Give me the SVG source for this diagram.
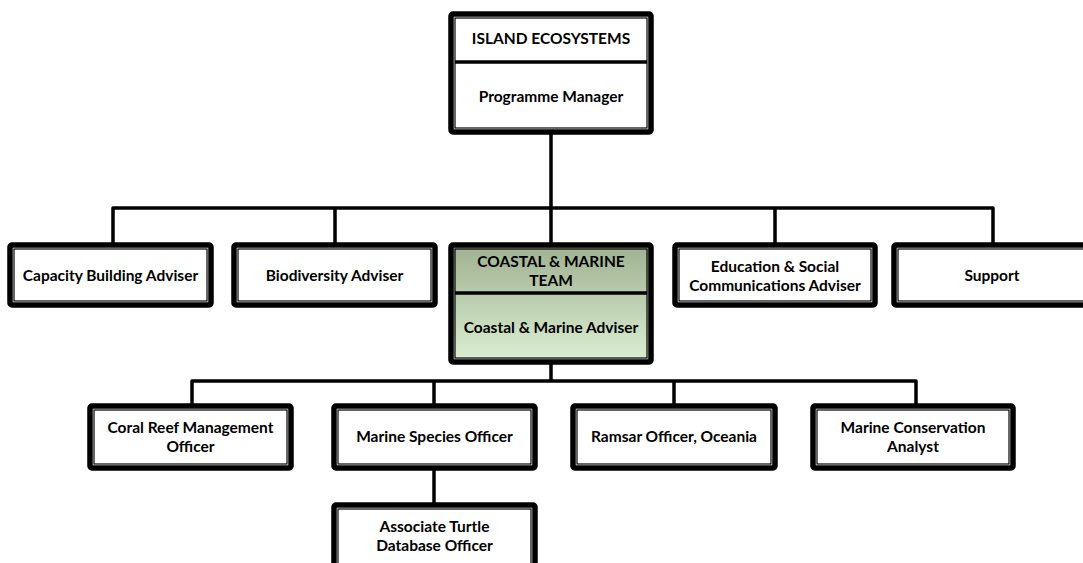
<svg xmlns="http://www.w3.org/2000/svg" width="1083" height="563" viewBox="0 0 1083 563">
<defs>
<linearGradient id="g" x1="0" y1="0" x2="0" y2="1">
<stop offset="0" stop-color="#9fb190"/>
<stop offset="1" stop-color="#dcefd2"/>
</linearGradient>
</defs>
<style>
.o{fill:#fff;stroke:#000;stroke-width:5.5}
.i{fill:none;stroke:#000;stroke-width:1.2}
.d{stroke:#000;stroke-width:3.5}
.c{fill:none;stroke:#000;stroke-width:3.5;stroke-linejoin:round}
text{font-family:Lato,"Liberation Sans",sans-serif;font-weight:bold;font-size:15.5px;fill:#000;text-anchor:middle}
</style>
<g id="connectors">
<path class="c" d="M551,133V243"/>
<path class="c" d="M113,243V208H993V243"/>
<path class="c" d="M335,208V243M775,208V243"/>
<path class="c" d="M551,363V381"/>
<path class="c" d="M192,405V381H916V405"/>
<path class="c" d="M434,381V405M674,381V405"/>
<path class="c" d="M434,469V503"/>
</g>
<g id="island">
<rect class="o" x="451" y="14" width="200" height="118" rx="2"/>
<rect class="i" x="455" y="18" width="192" height="110"/>
<line class="d" x1="455" y1="62" x2="647" y2="62"/>
<text x="551" y="44">ISLAND ECOSYSTEMS</text>
<text x="551" y="102">Programme Manager</text>
</g>
<g id="capacity">
<rect class="o" x="10" y="245" width="201" height="60" rx="2"/>
<rect class="i" x="14" y="249" width="193" height="52"/>
<text x="110.5" y="281">Capacity Building Adviser</text>
</g>
<g id="biodiversity">
<rect class="o" x="234" y="245" width="201" height="60" rx="2"/>
<rect class="i" x="238" y="249" width="193" height="52"/>
<text x="334.5" y="281">Biodiversity Adviser</text>
</g>
<g id="coastal">
<rect class="o" x="451" y="245" width="200" height="117" rx="2" style="fill:url(#g)"/>
<rect class="i" x="455" y="249" width="192" height="109"/>
<line class="d" x1="455" y1="293" x2="647" y2="293"/>
<text x="551" y="267">COASTAL &amp; MARINE</text>
<text x="551" y="286">TEAM</text>
<text x="551" y="333">Coastal &amp; Marine Adviser</text>
</g>
<g id="education">
<rect class="o" x="675" y="245" width="200" height="60" rx="2"/>
<rect class="i" x="679" y="249" width="192" height="52"/>
<text x="775" y="272">Education &amp; Social</text>
<text x="775" y="291">Communications Adviser</text>
</g>
<g id="support">
<rect class="o" x="894" y="245" width="201" height="60" rx="2"/>
<rect class="i" x="898" y="249" width="193" height="52"/>
<text x="992" y="281">Support</text>
</g>
<g id="coral">
<rect class="o" x="90" y="406" width="201" height="62" rx="2"/>
<rect class="i" x="94" y="410" width="193" height="54"/>
<text x="190.5" y="433">Coral Reef Management</text>
<text x="190.5" y="452">Officer</text>
</g>
<g id="species">
<rect class="o" x="334" y="406" width="201" height="62" rx="2"/>
<rect class="i" x="338" y="410" width="193" height="54"/>
<text x="434.5" y="442">Marine Species Officer</text>
</g>
<g id="ramsar">
<rect class="o" x="573" y="406" width="202" height="62" rx="2"/>
<rect class="i" x="577" y="410" width="194" height="54"/>
<text x="674" y="442">Ramsar Officer, Oceania</text>
</g>
<g id="conservation">
<rect class="o" x="813" y="406" width="200" height="62" rx="2"/>
<rect class="i" x="817" y="410" width="192" height="54"/>
<text x="913" y="433">Marine Conservation</text>
<text x="913" y="452">Analyst</text>
</g>
<g id="turtle">
<rect class="o" x="334" y="505" width="201" height="70" rx="2"/>
<rect class="i" x="338" y="509" width="193" height="62"/>
<text x="434.5" y="532">Associate Turtle</text>
<text x="434.5" y="551">Database Officer</text>
</g>
</svg>
